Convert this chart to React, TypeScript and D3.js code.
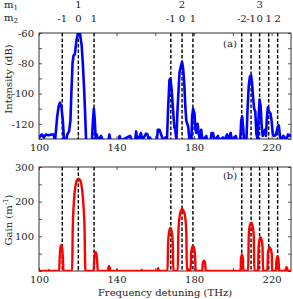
import * as d3 from 'd3';
import React, { useEffect, useRef } from 'react';

// measured spectrum (a)
const specFreq = [
  100, 101.5, 102.5, 103.5, 105, 106.5, 107.5, 108.3, 109.4, 110.2, 110.8, 111.6, 112.3, 112.9,
  114, 114.6, 115.5, 116.2, 116.7, 117.3, 117.8, 118.5, 119.2, 119.8, 120.3, 121, 121.5, 122,
  122.6, 123.2, 123.7, 124.3, 127.3, 127.8, 128.3, 128.8, 129.3, 129.8, 130.5, 132, 133, 135.8,
  136.3, 136.9, 141.2, 141.6, 142.2, 147, 148, 149.6, 150.1, 150.7, 152, 152.6, 153.2, 155.2,
  156, 156.6, 157.2, 158, 160.8, 161.3, 162.2, 163, 164, 165.2, 166, 166.6, 167.3, 167.8,
  168.4, 169.1, 169.8, 170.3, 170.9, 171.4, 171.9, 172.5, 173.2, 173.8, 174.4, 175, 175.5, 176,
  176.5, 177, 177.6, 178.6, 179, 179.5, 180.2, 180.7, 181.2, 181.8, 182.4, 183, 183.7, 184.3,
  186.3, 186.8, 188.5, 189, 189.8, 190.4, 192.3, 193, 194.9, 195.5, 197, 197.6, 198.9, 199.5,
  201.5, 202.2, 203.8, 204.3, 204.8, 205.3, 205.8, 207, 207.6, 208.2, 208.8, 209.4, 209.9, 210.4,
  211, 211.6, 212.1, 212.8, 213.3, 213.8, 214.3, 214.8, 215.4, 216, 216.6, 217.1, 217.6, 218.1,
  218.7, 219.4, 220, 220.6, 221.4, 222.2, 223.2, 223.7, 224.3, 225, 226, 226.7, 227.4, 228.5,
  229.3, 230,
];
const specDb = [
  -129, -127, -129, -127, -127.5, -127, -127, -131, -115, -108, -106, -109, -118, -131,
  -131, -127, -125, -118, -100, -80, -75, -74, -66, -62, -58, -58, -64, -68,
  -80, -95, -110, -131, -131, -118, -110, -118, -131, -127, -131, -128, -131, -131,
  -127, -131, -131, -128, -131, -128, -131, -131, -125, -131, -128, -126, -131, -126.5,
  -127, -131, -129, -131, -131, -124, -124, -127, -131, -129, -131, -110, -91, -90,
  -97, -110, -122, -124, -131, -112, -100, -86, -82, -79, -84, -95, -109, -118,
  -120, -122, -131, -131, -115, -110, -113, -124, -126, -120, -126, -131, -124, -131,
  -128, -131, -131, -126, -126, -131, -128, -131, -129, -131, -127, -131, -126, -131,
  -128, -131, -131, -118, -115, -122, -131, -131, -110, -95, -89, -88, -93, -102,
  -110, -112, -126, -131, -115, -104, -108, -120, -128, -126, -124, -128, -115, -109,
  -112, -113, -118, -127, -128, -127, -122, -121, -128, -131, -128, -129, -131, -127,
  -128, -127,
];

// computed gain (b)
const gainFreq = [
  100, 104.5, 105, 105.5, 110.4, 110.7, 111.1, 111.5, 111.9, 112.3, 112.6,
  117.1, 117.4, 118, 118.8, 119.6, 120.4, 121.2, 122, 122.8, 123.5, 123.9,
  128.2, 128.5, 128.9, 129.2, 129.6, 130, 130.3, 135.5, 135.8, 136.1, 136.5, 136.8,
  139.9, 140.2, 140.5, 152.8, 153, 153.2, 161.2, 161.5, 161.8,
  166.3, 166.6, 167.2, 167.8, 168.4, 169, 169.3,
  171.6, 171.9, 172.6, 173.3, 174, 174.7, 175.4, 176, 176.3, 176.8, 177, 177.2,
  178.2, 178.5, 179, 179.5, 180, 180.5, 180.8, 184.2, 184.5, 185.1, 185.7, 186,
  204, 204.2, 204.7, 205.2, 205.4, 207.9, 208.2, 208.8, 209.5, 210.2, 210.8, 211.1,
  213, 213.3, 213.8, 214.3, 214.8, 215.3, 215.6, 217.8, 218.1, 218.6, 219.1, 219.6, 220.1, 220.3,
  222.2, 222.5, 223, 223.5, 223.9, 227.1, 227.4, 227.7, 228, 228.3, 230,
];
const gainVal = [
  0, 0, 2, 0, 0, 40, 68, 75, 68, 40, 0,
  0, 120, 200, 245, 262, 266, 262, 245, 200, 120, 0,
  0, 35, 52, 55, 50, 30, 0, 0, 10, 14, 10, 0,
  0, 3, 0, 0, 3, 0, 0, 8, 0,
  0, 80, 115, 124, 115, 80, 0,
  0, 110, 160, 175, 178, 172, 155, 110, 0, 0, 5, 0,
  0, 50, 68, 72, 66, 45, 0, 0, 22, 30, 22, 0,
  0, 35, 48, 35, 0, 0, 100, 132, 139, 130, 100, 0,
  0, 70, 92, 97, 90, 70, 0, 0, 50, 65, 68, 62, 48, 0,
  0, 30, 42, 35, 0, 0, 8, 11, 8, 0, 0,
];

// mode positions (THz) and labels
const modeFreq = [112, 120.3, 128.4, 168, 173.8, 179.4, 204.6, 209.4, 213.8, 218.5, 223.1];
const m2Labels = ['-1', '0', '1', '-1', '0', '1', '-2', '-1', '0', '1', '2'];
const m1Labels = ['1', '2', '3'];
const m1Freq = [120.3, 173.8, 213.8];

const xTicks = [100, 120, 140, 160, 180, 200, 220];
const xLabels = [100, 140, 180, 220];
const dbTicks = [-130, -120, -110, -100, -90, -80, -70, -60];
const dbLabels = [-60, -80, -100, -120];
const gainTicks = [0, 50, 100, 150, 200, 250, 300];
const gainLabels = [100, 200, 300];

const W = 293;
const H = 299;
const FONT = '"DejaVu Serif", serif';

export default function App() {
  const svgRef = useRef<SVGSVGElement | null>(null);

  useEffect(() => {
    if (!svgRef.current) return;
    const svg = d3.select(svgRef.current);
    svg.selectAll('*').remove();

    const left = 39;
    const right = 291;
    const x = d3.scaleLinear().domain([100, 230]).range([left, right]);
    const yA = d3.scaleLinear().domain([-130, -60]).range([139, 33]);
    const yB = d3.scaleLinear().domain([0, 300]).range([271, 167]);

    const panel = (
      id: string,
      y: d3.ScaleLinear<number, number>,
      yTicks: number[],
      yLabels: number[],
      tag: string,
      tagY: number,
    ) => {
      const [y0, y1] = y.range();
      const g = svg.append('g');
      svg.append('defs').append('clipPath').attr('id', id)
        .append('rect').attr('x', left).attr('y', y1).attr('width', right - left).attr('height', y0 - y1);

      const fmtY = (d: d3.NumberValue) => (yLabels.includes(+d) ? String(d) : '');
      const fmtX = (d: d3.NumberValue) => (xLabels.includes(+d) ? String(d) : '');

      const axes = [
        g.append('g').attr('transform', `translate(${left},0)`)
          .call(d3.axisLeft(y).tickValues(yTicks).tickSize(-3).tickSizeOuter(0).tickPadding(5).tickFormat(fmtY)),
        g.append('g').attr('transform', `translate(${right},0)`)
          .call(d3.axisRight(y).tickValues(yTicks).tickSize(-3).tickSizeOuter(0).tickFormat(() => '')),
        g.append('g').attr('transform', `translate(0,${y0})`)
          .call(d3.axisBottom(x).tickValues(xTicks).tickSize(-3).tickSizeOuter(0).tickPadding(5).tickFormat(fmtX)),
        g.append('g').attr('transform', `translate(0,${y1})`)
          .call(d3.axisTop(x).tickValues(xTicks).tickSize(-3).tickSizeOuter(0).tickFormat(() => '')),
      ];
      axes.forEach((a) => {
        a.select('.domain').remove();
        a.selectAll('line').attr('stroke', '#555');
        a.selectAll('text').attr('font-family', FONT).attr('font-size', 10).attr('fill', '#222');
      });

      g.append('rect')
        .attr('x', left).attr('y', y1).attr('width', right - left).attr('height', y0 - y1)
        .attr('fill', 'none').attr('stroke', '#333').attr('stroke-width', 1);

      g.selectAll('.mode')
        .data(modeFreq)
        .enter()
        .append('line')
        .attr('x1', (d) => x(d)).attr('x2', (d) => x(d))
        .attr('y1', y1).attr('y2', y0)
        .attr('stroke', '#000').attr('stroke-width', 1.4).attr('stroke-dasharray', '3.5,2');

      g.append('text')
        .attr('x', 230).attr('y', tagY)
        .attr('text-anchor', 'middle')
        .attr('font-family', FONT).attr('font-size', 10).attr('fill', '#222')
        .text(tag);
      return g;
    };

    const gA = panel('clipA', yA, dbTicks, dbLabels, '(a)', 47);
    const gB = panel('clipB', yB, gainTicks, gainLabels, '(b)', 179);

    const spec = d3.range(specFreq.length).map((i) => [specFreq[i], specDb[i]] as [number, number]);
    const specLine = d3.line<[number, number]>().x((d) => x(d[0])).y((d) => yA(d[1]));
    gA.append('path')
      .attr('d', specLine(spec))
      .attr('clip-path', 'url(#clipA)')
      .attr('fill', 'none').attr('stroke', '#0000ff').attr('stroke-width', 2.6)
      .attr('stroke-linejoin', 'round');

    const gain = d3.range(gainFreq.length).map((i) => [gainFreq[i], gainVal[i]] as [number, number]);
    const gainLine = d3.line<[number, number]>().x((d) => x(d[0])).y((d) => yB(d[1])).curve(d3.curveMonotoneX);
    gB.append('path')
      .attr('d', gainLine(gain))
      .attr('clip-path', 'url(#clipB)')
      .attr('fill', 'none').attr('stroke', '#ff0000').attr('stroke-width', 2.4)
      .attr('stroke-linejoin', 'round');

    // mode labels on top
    const txt = (sel: d3.Selection<SVGGElement, unknown, null, undefined>) =>
      sel.attr('font-family', FONT).attr('font-size', 10).attr('fill', '#222');
    const top = txt(svg.append('g'));
    const m1 = top.append('text').attr('x', 4).attr('y', 8);
    m1.append('tspan').text('m');
    m1.append('tspan').attr('font-size', 7).attr('dy', 2).text('1');
    const m2 = top.append('text').attr('x', 4).attr('y', 21);
    m2.append('tspan').text('m');
    m2.append('tspan').attr('font-size', 7).attr('dy', 2).text('2');

    top.selectAll('.m1')
      .data(m1Freq)
      .enter()
      .append('text')
      .attr('x', (d) => x(d)).attr('y', 8)
      .attr('text-anchor', 'middle')
      .text((d, i) => m1Labels[i]);
    top.selectAll('.m2')
      .data(modeFreq)
      .enter()
      .append('text')
      .attr('x', (d) => x(d)).attr('y', 21.5)
      .attr('text-anchor', 'middle')
      .text((d, i) => m2Labels[i]);

    // axis titles
    const titles = txt(svg.append('g'));
    titles.append('text')
      .attr('transform', 'translate(11.5,79) rotate(-90)')
      .attr('text-anchor', 'middle')
      .text('Intensity (dB)');
    const gt = titles.append('text')
      .attr('transform', 'translate(11.5,220) rotate(-90)')
      .attr('text-anchor', 'middle');
    gt.append('tspan').text('Gain (m');
    gt.append('tspan').attr('font-size', 7).attr('dy', -4).text('-1');
    gt.append('tspan').attr('dy', 4).text(')');
    titles.append('text')
      .attr('x', (left + right) / 2).attr('y', 296)
      .attr('text-anchor', 'middle')
      .text('Frequency detuning (THz)');
  }, []);

  return (
    <div style={{ position: 'fixed', left: 0, top: 0, width: W, height: H, background: '#fff' }}>
      <svg ref={svgRef} width={W} height={H} />
    </div>
  );
}
